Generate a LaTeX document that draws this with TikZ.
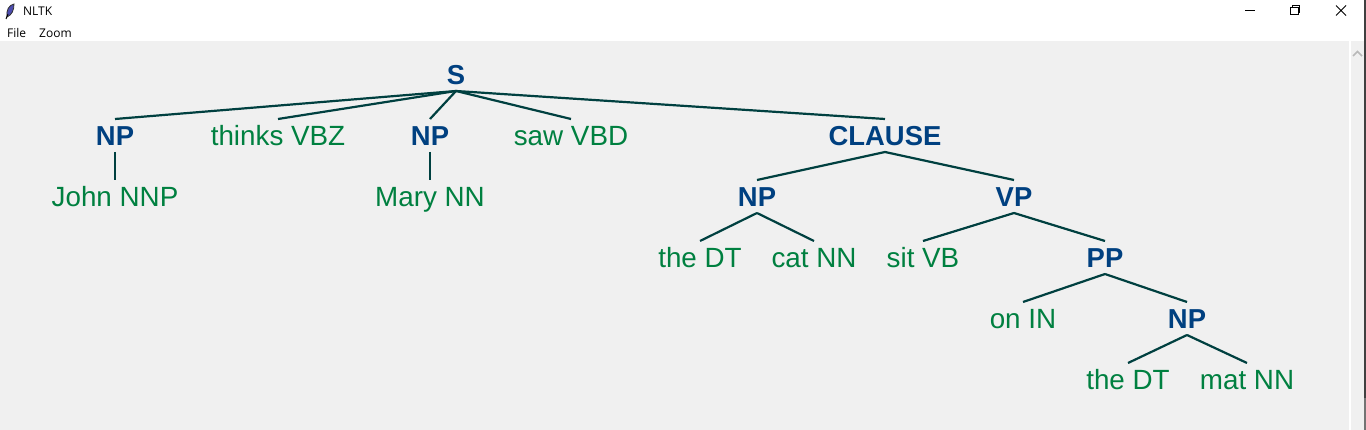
\documentclass[tikz,border=0pt]{standalone}
\usepackage{fontspec}
\setmainfont{Liberation Sans}
\newfontfamily\uifont{Open Sans}
\definecolor{treebg}{HTML}{F0F0F0}
\definecolor{treeline}{HTML}{004040}
\definecolor{treecat}{HTML}{004080}
\definecolor{treeleaf}{HTML}{008040}
\tikzset{
  tagbox/.style={inner sep=0pt,outer sep=0pt,text height=26.8pt,text depth=6.2pt},
  cat/.style={tagbox,text=treecat,font=\fontsize{27.4pt}{30pt}\selectfont\bfseries},
  leaf/.style={tagbox,text=treeleaf,font=\fontsize{27.8pt}{30pt}\selectfont},
  menu/.style={inner sep=0pt,anchor=base west,font=\fontsize{12pt}{14pt}\uifont},
  branch/.style={draw=treeline,line width=2.2pt}
}
\begin{document}
\begin{tikzpicture}[x=1pt,y=-1pt]
\useasboundingbox (0,0) rectangle (1366,430);
% window
\fill[white] (0,0) rectangle (1366,430);
\fill[treebg] (0,41) rectangle (1349,430);
\fill[treebg] (1351,41) rectangle (1364,430);
\fill[black!75] (1364,0) rectangle (1366,398);
\fill[black!55] (1364,398) rectangle (1366,430);
\draw[gray!55,line width=1.5pt] (1353,56) -- (1357.5,51.5) -- (1362,56);
% title bar
\draw[black!80,fill=blue!55!black!70,line width=.8pt] (7,17) .. controls (6,10) and (9,5) .. (14,4) .. controls (14,10) and (12,15) .. (7,17);
\draw[black,line width=1pt] (6,19) -- (8,14);
\node[menu] (title) at (23,16) {NLTK};
\node[menu] (file) at (7,37.5) {File};
\node[menu] (zoom) at (39,37.5) {Zoom};
\draw[black,line width=1pt] (1245,10.5) -- (1255,10.5);
\draw[black,line width=1pt] (1290.5,7.5) rectangle (1298,15) (1292.5,7.5) -- (1292.5,5.5) -- (1299.5,5.5) -- (1299.5,13) -- (1298,13);
\draw[black,line width=1pt] (1336,5.5) -- (1346,15.5) (1346,5.5) -- (1336,15.5);

% tree
\node[cat]  (S)      at (456,74.5)  {S};
\node[cat]  (NPa)    at (115,135.5) {NP};
\node[leaf] (thinks) at (278,135.5) {thinks VBZ};
\node[cat]  (NPb)    at (430,135.5) {NP};
\node[leaf] (saw)    at (571,135.5) {saw VBD};
\node[cat]  (CL)     at (885,135.5) {CLAUSE};
\node[leaf] (John)   at (115,196.5) {John NNP};
\node[leaf] (Mary)   at (430,196.5) {Mary NN};
\node[cat]  (NPc)    at (757,196.5) {NP};
\node[cat]  (VP)     at (1014,196.5) {VP};
\node[leaf] (theA)   at (700,257.5) {the DT};
\node[leaf] (cat)    at (814,257.5) {cat NN};
\node[leaf] (sit)    at (923,257.5) {sit VB};
\node[cat]  (PP)     at (1105,257.5) {PP};
\node[leaf] (on)     at (1023,318.5) {on IN};
\node[cat]  (NPd)    at (1187,318.5) {NP};
\node[leaf] (theB)   at (1128,379.5) {the DT};
\node[leaf] (mat)    at (1247,379.5) {mat NN};

\path[branch]
      (S.south) edge (NPa.north)
      (S.south) edge (thinks.north)
      (S.south) edge (NPb.north)
      (S.south) edge (saw.north)
      (S.south) edge (CL.north)
      (NPa.south) edge (John.north)
      (NPb.south) edge (Mary.north)
      (CL.south) edge (NPc.north)
      (CL.south) edge (VP.north)
      (NPc.south) edge (theA.north)
      (NPc.south) edge (cat.north)
      (VP.south) edge (sit.north)
      (VP.south) edge (PP.north)
      (PP.south) edge (on.north)
      (PP.south) edge (NPd.north)
      (NPd.south) edge (theB.north)
      (NPd.south) edge (mat.north);
\end{tikzpicture}
\end{document}
